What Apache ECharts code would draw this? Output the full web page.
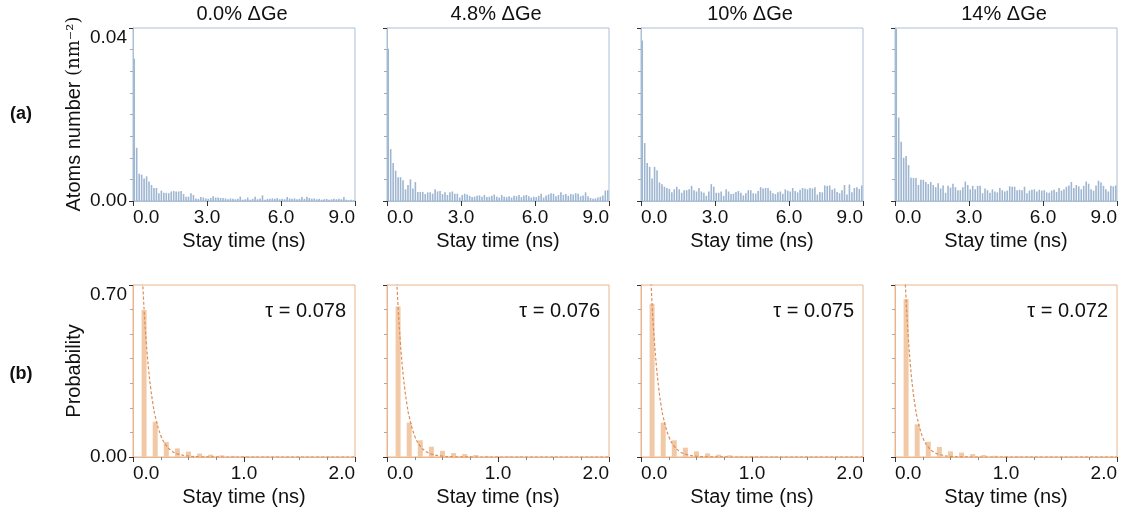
<!DOCTYPE html>
<html><head><meta charset="utf-8">
<script src="https://cdn.jsdelivr.net/npm/echarts@6/dist/echarts.min.js"></script>
<style>html,body{margin:0;padding:0;background:#fff}#c{width:1134px;height:520px}</style>
</head><body><div id="c"></div>
<script>
// ---------- data ----------
const panelTitles = ['0.0% ΔGe', '4.8% ΔGe', '10% ΔGe', '14% ΔGe'];
const tauLabels = ['τ = 0.078', 'τ = 0.076', 'τ = 0.075', 'τ = 0.072'];
const topXTicks = [0, 3, 6, 9];
const topYTicks = [0, 0.04];
const botXTicks = [0, 1, 2];
const botYTicks = [0, 0.7];
const topBinWidth = 0.1;   // stay-time bin (ns)
const botBinWidth = 0.1;

// (a) atoms number per stay-time bin, 0..9 ns
const atoms0 = [0.0329,0.0123,0.0063,0.0061,0.0052,0.0057,0.0045,0.0037,0.0030,0.0030,
 0.0018,0.0024,0.0019,0.0019,0.0018,0.0022,0.0023,0.0022,0.0022,0.0023,
 0.0016,0.0010,0.0010,0.0018,0.0014,0.0006,0.0005,0.0009,0.0008,0.0006,
 0.0005,0.0007,0.0011,0.0008,0.0008,0.0007,0.0007,0.0006,0.0004,0.0006,
 0.0005,0.0004,0.0005,0.0010,0.0003,0.0004,0.0008,0.0003,0.0005,0.0010,
 0.0004,0.0006,0.0013,0.0003,0.0005,0.0005,0.0006,0.0005,0.0007,0.0004,
 0.0005,0.0004,0.0009,0.0006,0.0005,0.0006,0.0004,0.0005,0.0009,0.0005,
 0.0010,0.0007,0.0005,0.0006,0.0004,0.0005,0.0003,0.0004,0.0005,0.0003,
 0.0004,0.0005,0.0004,0.0005,0.0004,0.0009,0.0003,0.0002,0.0003,0.0002];
const atoms48 = [0.0352,0.0120,0.0088,0.0070,0.0055,0.0055,0.0048,0.0027,0.0037,0.0050,
 0.0029,0.0044,0.0021,0.0021,0.0021,0.0016,0.0020,0.0020,0.0017,0.0027,
 0.0022,0.0023,0.0016,0.0020,0.0014,0.0020,0.0022,0.0017,0.0017,0.0008,
 0.0014,0.0017,0.0015,0.0012,0.0009,0.0010,0.0012,0.0013,0.0010,0.0014,
 0.0009,0.0010,0.0012,0.0015,0.0010,0.0008,0.0014,0.0010,0.0009,0.0011,
 0.0008,0.0012,0.0011,0.0014,0.0009,0.0013,0.0014,0.0011,0.0008,0.0010,
 0.0009,0.0012,0.0017,0.0008,0.0013,0.0015,0.0018,0.0017,0.0011,0.0014,
 0.0020,0.0014,0.0016,0.0012,0.0016,0.0015,0.0018,0.0017,0.0011,0.0013,
 0.0020,0.0011,0.0007,0.0005,0.0006,0.0008,0.0010,0.0013,0.0024,0.0025];
const atoms10 = [0.0371,0.0134,0.0088,0.0079,0.0052,0.0079,0.0071,0.0043,0.0039,0.0033,
 0.0030,0.0028,0.0020,0.0027,0.0033,0.0027,0.0019,0.0025,0.0025,0.0027,
 0.0035,0.0025,0.0022,0.0030,0.0022,0.0019,0.0012,0.0022,0.0039,0.0033,
 0.0019,0.0019,0.0022,0.0012,0.0027,0.0022,0.0016,0.0017,0.0021,0.0023,
 0.0019,0.0013,0.0018,0.0025,0.0025,0.0018,0.0017,0.0023,0.0032,0.0029,
 0.0030,0.0030,0.0024,0.0018,0.0016,0.0020,0.0022,0.0017,0.0027,0.0024,
 0.0022,0.0030,0.0023,0.0020,0.0026,0.0030,0.0029,0.0027,0.0030,0.0029,
 0.0032,0.0015,0.0021,0.0020,0.0036,0.0035,0.0036,0.0026,0.0029,0.0021,
 0.0018,0.0025,0.0037,0.0015,0.0038,0.0020,0.0030,0.0032,0.0028,0.0036];
const atoms14 = [0.0398,0.0193,0.0137,0.0100,0.0104,0.0083,0.0054,0.0053,0.0053,0.0037,
 0.0049,0.0049,0.0044,0.0039,0.0044,0.0037,0.0032,0.0041,0.0029,0.0036,
 0.0019,0.0035,0.0031,0.0040,0.0032,0.0025,0.0025,0.0032,0.0045,0.0037,
 0.0027,0.0035,0.0027,0.0035,0.0035,0.0018,0.0029,0.0025,0.0019,0.0027,
 0.0022,0.0020,0.0030,0.0025,0.0022,0.0024,0.0034,0.0033,0.0033,0.0025,
 0.0026,0.0025,0.0033,0.0018,0.0024,0.0026,0.0027,0.0022,0.0026,0.0024,
 0.0025,0.0020,0.0019,0.0024,0.0026,0.0021,0.0030,0.0024,0.0027,0.0033,
 0.0036,0.0044,0.0030,0.0037,0.0034,0.0027,0.0035,0.0045,0.0040,0.0027,
 0.0024,0.0036,0.0047,0.0043,0.0035,0.0027,0.0022,0.0035,0.0034,0.0036];

// (b) probability per stay-time bin, bars at 0.1..2.0 ns
const prob0  = [0.598,0.143,0.061,0.035,0.022,0.014,0.0095,0.0068,0.0045,0.0030,0.0022,0.0016,0.0012,0.0009,0.0007,0.0005,0.0004,0.0003,0.0002,0.0002];
const prob48 = [0.612,0.140,0.068,0.042,0.025,0.016,0.0120,0.0080,0.0045,0.0028,0.0020,0.0015,0.0011,0.0008,0.0006,0.0005,0.0004,0.0003,0.0002,0.0002];
const prob10 = [0.624,0.140,0.068,0.038,0.023,0.015,0.0095,0.0070,0.0045,0.0030,0.0021,0.0015,0.0011,0.0008,0.0006,0.0005,0.0004,0.0003,0.0002,0.0002];
const prob14 = [0.642,0.133,0.062,0.041,0.023,0.018,0.0120,0.0080,0.0050,0.0030,0.0021,0.0015,0.0011,0.0008,0.0006,0.0005,0.0004,0.0003,0.0002,0.0002];

// dashed fit curves
const fitT   = [0.08, 0.10, 0.12, 0.14, 0.16, 0.18, 0.20, 0.25, 0.30, 0.35, 0.40, 0.50, 0.60, 0.80, 1.00, 1.50, 2.00];
const fit0   = [0.775,0.600,0.464,0.359,0.278,0.215,0.166,0.0877,0.0462,0.0243,0.0128,0.0036,0.0010,0.0001,0,0,0];
const fit48  = [0.794,0.610,0.469,0.360,0.277,0.213,0.164,0.0848,0.0439,0.0228,0.0118,0.0032,0.0009,0.0001,0,0,0];
const fit10  = [0.810,0.620,0.475,0.364,0.279,0.213,0.163,0.0839,0.0431,0.0221,0.0114,0.0030,0.0008,0.0001,0,0,0];
const fit14  = [0.845,0.640,0.485,0.367,0.278,0.211,0.160,0.0797,0.0398,0.0199,0.0099,0.0025,0.0006,0,0,0,0];

const atomsSets = [atoms0, atoms48, atoms10, atoms14];
const probSets = [prob0, prob48, prob10, prob14];
const fitSets = [fit0, fit48, fit10, fit14];

// ---------- styles ----------
const FONT = '"Liberation Sans", Arial, Helvetica, sans-serif';
const blueFrame = '#a9c0d8', blueBar = '#9fb6d1';
const orgFrame = '#e8b58e', orgBar = '#f2c9a7', orgLine = '#de8e58';
const lefts = [133, 387, 641, 895];
const W = 222;
const topRow = {top: 28, height: 173};
const botRow = {top: 285, height: 172};

const grids = [], xAxes = [], yAxes = [], series = [], graphics = [];

function fmt(v, d) { return v.toFixed(d); }

function mkX(gi, ticks, minorSplit, frame) {
  const iv = ticks[1] - ticks[0];
  return {
    type: 'value', gridIndex: gi, min: ticks[0], max: ticks[ticks.length - 1], interval: iv,
    axisLine: {show: true, lineStyle: {color: frame, width: 1}},
    axisTick: {show: true, length: 5, lineStyle: {color: '#333', width: 1}},
    minorTick: {show: minorSplit > 0, splitNumber: minorSplit || 5, length: 3, lineStyle: {color: '#888'}},
    splitLine: {show: false},
    axisLabel: {fontFamily: FONT, fontSize: 19, color: '#111', margin: 7,
      formatter: v => fmt(v, 1), alignMinLabel: 'left', alignMaxLabel: 'right', showMinLabel: true, showMaxLabel: true},
    name: 'Stay time (ns)', nameLocation: 'middle', nameGap: 30,
    nameTextStyle: {fontFamily: FONT, fontSize: 20, color: '#111'}
  };
}
function mkY(gi, ticks, minorSplit, frame, showLabels) {
  return {
    type: 'value', gridIndex: gi, min: ticks[0], max: ticks[1], interval: ticks[1] - ticks[0],
    axisLine: {show: true, lineStyle: {color: frame, width: 1}},
    axisTick: {show: true, length: 4, lineStyle: {color: '#333', width: 1}},
    minorTick: {show: true, splitNumber: minorSplit, length: 3, lineStyle: {color: '#aaa'}},
    splitLine: {show: false},
    axisLabel: {show: showLabels, fontFamily: FONT, fontSize: 19, color: '#111', margin: 6,
      formatter: v => fmt(v, 2), verticalAlignMaxLabel: 'top', showMinLabel: true, showMaxLabel: true}
  };
}

for (let c = 0; c < 4; c++) {
  // top panel (a)
  let gi = grids.length;
  grids.push({left: lefts[c], top: topRow.top, width: W, height: topRow.height,
    show: true, borderColor: blueFrame, borderWidth: 1, backgroundColor: 'transparent'});
  xAxes.push(mkX(gi, topXTicks, 0, blueFrame));
  yAxes.push(mkY(gi, topYTicks, 8, blueFrame, c === 0));
  series.push({type: 'bar', xAxisIndex: gi, yAxisIndex: gi, barWidth: 1.6,
    itemStyle: {color: blueBar}, silent: true, animation: false,
    data: atomsSets[c].map((v, i) => [+((i + 0.5) * topBinWidth).toFixed(2), v])});
  // bottom panel (b)
  gi = grids.length;
  grids.push({left: lefts[c], top: botRow.top, width: W, height: botRow.height,
    show: true, borderColor: orgFrame, borderWidth: 1, backgroundColor: 'transparent'});
  xAxes.push(mkX(gi, botXTicks, 4, orgFrame));
  yAxes.push(mkY(gi, botYTicks, 7, orgFrame, c === 0));
  series.push({type: 'bar', xAxisIndex: gi, yAxisIndex: gi, barWidth: 5,
    itemStyle: {color: orgBar}, silent: true, animation: false,
    data: probSets[c].map((v, i) => [+((i + 1) * botBinWidth).toFixed(2), v])});
  series.push({type: 'line', xAxisIndex: gi, yAxisIndex: gi, smooth: 0.4, symbol: 'none', clip: true,
    lineStyle: {color: orgLine, width: 1.2, type: [3, 2]}, silent: true, animation: false,
    data: fitT.map((t, i) => [t, fitSets[c][i]])});

  // column title
  graphics.push({type: 'text', position: [lefts[c] + W / 2 - 2, 14],
    style: {text: panelTitles[c], font: '20px ' + FONT, fill: '#111', textAlign: 'center', textVerticalAlign: 'middle'}});
  // tau label
  graphics.push({type: 'text', position: [lefts[c] + 213, 311],
    style: {text: tauLabels[c], font: '20px ' + FONT, fill: '#111', textAlign: 'right', textVerticalAlign: 'middle'}});
}

graphics.push({type: 'text', position: [21, 114],
  style: {text: '(a)', font: 'bold 18px ' + FONT, fill: '#111', textAlign: 'center', textVerticalAlign: 'middle'}});
graphics.push({type: 'text', position: [21, 374],
  style: {text: '(b)', font: 'bold 18px ' + FONT, fill: '#111', textAlign: 'center', textVerticalAlign: 'middle'}});
graphics.push({type: 'text', position: [74, 114], rotation: Math.PI / 2,
  style: {text: '{a|Atoms number }{b|(nm⁻²)}', textAlign: 'center', textVerticalAlign: 'middle',
    rich: {a: {fontSize: 20, fontFamily: FONT, color: '#111', fill: '#111'},
           b: {fontSize: 18, fontFamily: '"DejaVu Serif", serif', color: '#111', fill: '#111'}}}});
graphics.push({type: 'text', position: [74, 371], rotation: Math.PI / 2,
  style: {text: 'Probability', font: '20px ' + FONT, fill: '#111', textAlign: 'center', textVerticalAlign: 'middle'}});

const chart = echarts.init(document.getElementById('c'), null, {renderer: 'canvas'});
chart.setOption({
  animation: false,
  backgroundColor: '#fff',
  grid: grids, xAxis: xAxes, yAxis: yAxes, series: series,
  graphic: {elements: graphics}
});
</script></body></html>
